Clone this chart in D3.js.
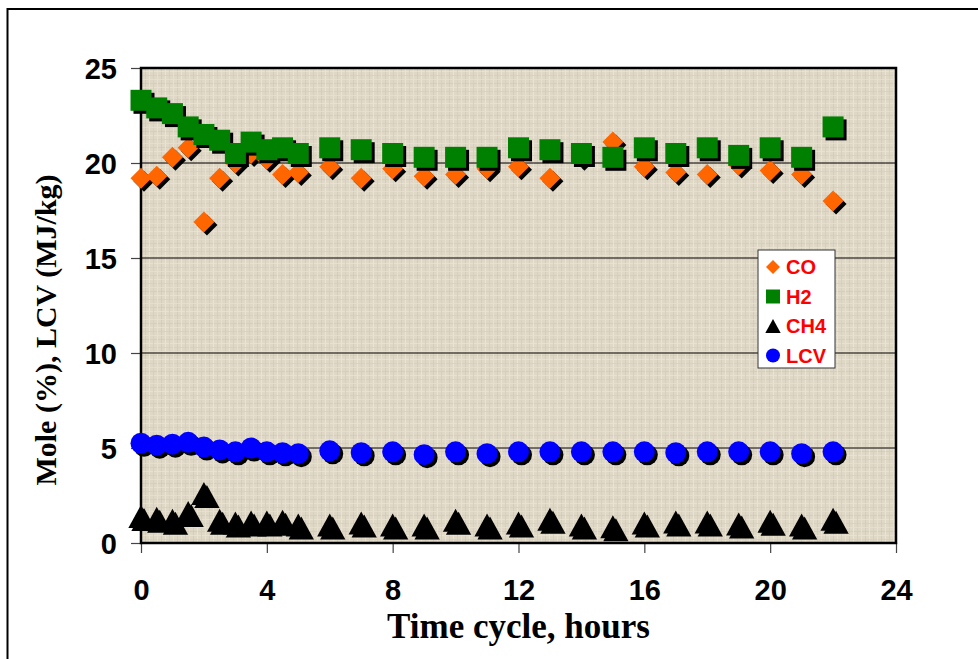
<!DOCTYPE html>
<html>
<head>
<meta charset="utf-8">
<script src="https://cdn.jsdelivr.net/npm/d3@7"></script>
<style>
  body { margin: 0; background: #fff; }
  svg { display: block; }
</style>
</head>
<body>
<div id="chart"></div>
<script>
// time points (hours)
const hours = [0, 0.5, 1, 1.5, 2, 2.5, 3, 3.5, 4, 4.5, 5, 6, 7, 8, 9, 10, 11, 12, 13, 14, 15, 16, 17, 18, 19, 20, 21, 22];
const co  = [19.2, 19.3, 20.3, 20.8, 16.9, 19.2, 20.0, 20.5, 20.2, 19.4, 19.5, 19.8, 19.2, 19.7, 19.3, 19.4, 19.7, 19.8, 19.2, 20.3, 21.1, 19.8, 19.5, 19.4, 19.9, 19.6, 19.4, 18.0];
const h2  = [23.3, 22.9, 22.6, 21.9, 21.5, 21.2, 20.5, 21.1, 20.7, 20.8, 20.5, 20.8, 20.7, 20.5, 20.3, 20.3, 20.3, 20.8, 20.7, 20.5, 20.3, 20.8, 20.5, 20.8, 20.4, 20.8, 20.3, 21.9];
const ch4 = [1.4, 1.3, 1.2, 1.6, 2.6, 1.2, 1.05, 1.1, 1.1, 1.15, 0.95, 0.95, 1.05, 0.95, 0.95, 1.2, 0.95, 1.05, 1.25, 0.95, 0.85, 1.05, 1.1, 1.1, 1.0, 1.15, 0.95, 1.25];
const lcv = [5.25, 5.15, 5.2, 5.3, 5.05, 4.9, 4.8, 5.0, 4.8, 4.75, 4.7, 4.85, 4.75, 4.8, 4.65, 4.8, 4.7, 4.8, 4.8, 4.8, 4.8, 4.8, 4.75, 4.8, 4.8, 4.8, 4.7, 4.8];

const xTicks = [0, 4, 8, 12, 16, 20, 24];
const yTicks = [0, 5, 10, 15, 20, 25];

const seriesNames = ["CO", "H2", "CH4", "LCV"];
const seriesValues = [co, h2, ch4, lcv];
const seriesColors = ["#ff6600", "#008000", "#000000", "#0000ff"];
const seriesShapes = ["diamond", "square", "triangle", "circle"];

const W = 978, H = 659;
const plot = { left: 141, right: 896, top: 68, bottom: 543 };

const svg = d3.select("#chart").append("svg")
    .attr("width", W)
    .attr("height", H);

// texture for the plot background
const defs = svg.append("defs");
const pat = defs.append("pattern")
    .attr("id", "canvas")
    .attr("patternUnits", "userSpaceOnUse")
    .attr("width", 16)
    .attr("height", 16);
pat.append("rect").attr("width", 16).attr("height", 16).attr("fill", "#e0d8c7");
[[1, "#d2c9b5"], [5, "#ebe5d8"], [9, "#d6cdb9"], [13, "#e9e2d4"]].forEach(([p, c]) => {
    pat.append("rect").attr("x", p).attr("y", 0).attr("width", 1).attr("height", 16).attr("fill", c).attr("opacity", 0.8);
    pat.append("rect").attr("x", 0).attr("y", (p + 2) % 16).attr("width", 16).attr("height", 1).attr("fill", c).attr("opacity", 0.7);
});

// outer frame (runs off the right and bottom edges)
svg.append("rect")
    .attr("x", 7.5).attr("y", 9)
    .attr("width", 1000).attr("height", 700)
    .attr("fill", "#fff")
    .attr("stroke", "#000")
    .attr("stroke-width", 2);

const x = d3.scaleLinear().domain([0, 24]).range([plot.left, plot.right]);
const y = d3.scaleLinear().domain([0, 25]).range([plot.bottom, plot.top]);

svg.append("rect")
    .attr("x", plot.left).attr("y", plot.top)
    .attr("width", plot.right - plot.left)
    .attr("height", plot.bottom - plot.top)
    .attr("fill", "url(#canvas)");

// gridlines
svg.append("g")
    .selectAll("line")
    .data(yTicks.filter(d => d > 0 && d < 25))
    .join("line")
    .attr("x1", plot.left).attr("x2", plot.right)
    .attr("y1", d => y(d)).attr("y2", d => y(d))
    .attr("stroke", "#000")
    .attr("stroke-width", 1);

// axes
const yAxis = svg.append("g")
    .attr("transform", `translate(${plot.left},0)`)
    .call(d3.axisLeft(y).tickValues(yTicks).tickSize(10).tickPadding(14));
const xAxis = svg.append("g")
    .attr("transform", `translate(0,${plot.bottom})`)
    .call(d3.axisBottom(x).tickValues(xTicks).tickSize(10).tickPadding(26));

[yAxis, xAxis].forEach(g => {
    g.select(".domain").remove();
    g.selectAll(".tick line").attr("stroke", "#444").attr("stroke-width", 1.2);
    g.selectAll(".tick text")
        .attr("fill", "#000")
        .style("font-family", "'Liberation Sans', Arial, sans-serif")
        .style("font-weight", "bold")
        .style("font-size", "29px");
});
yAxis.selectAll(".tick text").attr("dy", "0.36em");

// plot border
svg.append("rect")
    .attr("x", plot.left).attr("y", plot.top)
    .attr("width", plot.right - plot.left)
    .attr("height", plot.bottom - plot.top)
    .attr("fill", "none")
    .attr("stroke", "#000")
    .attr("stroke-width", 2.5);

function shapePath(shape, s) {
    if (shape === "diamond") return `M0,${-s}L${s},0L0,${s}L${-s},0Z`;
    if (shape === "square") return `M${-s},${-s}H${s}V${s}H${-s}Z`;
    if (shape === "triangle") return `M0,${-s}L${s * 1.1},${s}H${-s * 1.1}Z`;
    return `M${s},0A${s},${s} 0 1,1 ${-s},0A${s},${s} 0 1,1 ${s},0Z`;
}
const markerSize = { diamond: 10.5, square: 10.5, triangle: 11.5, circle: 10.5 };

seriesValues.forEach((vals, i) => {
    const shape = seriesShapes[i];
    const pts = hours.map((h, j) => [h, vals[j]]);
    const g = svg.append("g");
    g.selectAll("path.shadow")
        .data(pts)
        .join("path")
        .attr("class", "shadow")
        .attr("transform", d => `translate(${x(d[0]) + 3},${y(d[1]) + 3})`)
        .attr("d", shapePath(shape, markerSize[shape]))
        .attr("fill", "#000");
    g.selectAll("path.mark")
        .data(pts)
        .join("path")
        .attr("class", "mark")
        .attr("transform", d => `translate(${x(d[0])},${y(d[1])})`)
        .attr("d", shapePath(shape, markerSize[shape]))
        .attr("fill", seriesColors[i]);
});

// legend
const legend = svg.append("g").attr("transform", "translate(758,250)");
legend.append("rect")
    .attr("width", 77).attr("height", 118)
    .attr("fill", "#fff")
    .attr("stroke", "#333")
    .attr("stroke-width", 1);
seriesNames.forEach((name, i) => {
    const row = legend.append("g").attr("transform", `translate(15,${17 + i * 29.5})`);
    row.append("path")
        .attr("d", shapePath(seriesShapes[i], 7))
        .attr("fill", seriesColors[i]);
    row.append("text")
        .attr("x", 13)
        .attr("dy", "0.36em")
        .attr("fill", "#ff0000")
        .style("font-family", "'Liberation Sans', Arial, sans-serif")
        .style("font-weight", "bold")
        .style("font-size", "20px")
        .text(name);
});

// axis titles
svg.append("text")
    .attr("x", (plot.left + plot.right) / 2)
    .attr("y", 638)
    .attr("text-anchor", "middle")
    .style("font-family", "'Liberation Serif', 'Times New Roman', serif")
    .style("font-weight", "bold")
    .style("font-size", "35px")
    .text("Time cycle, hours");

svg.append("text")
    .attr("transform", "translate(56,330) rotate(-90)")
    .attr("text-anchor", "middle")
    .style("font-family", "'Liberation Serif', 'Times New Roman', serif")
    .style("font-weight", "bold")
    .style("font-size", "30px")
    .text("Mole (%), LCV (MJ/kg)");
</script>
</body>
</html>
